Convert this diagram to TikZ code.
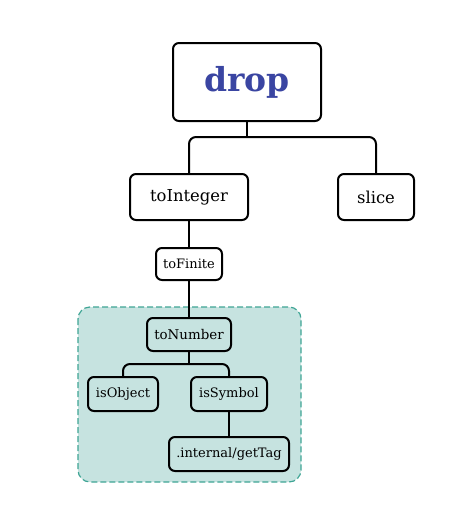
\documentclass[tikz,border=0pt]{standalone}
\usepackage{fontspec}
\setmainfont{DejaVu Serif}
\definecolor{dropblue}{HTML}{3A45A2}
\definecolor{clusterfill}{HTML}{C6E3E0}
\definecolor{clusterline}{HTML}{3FA595}
\tikzset{
  fn/.style={draw=black, line width=2pt, rounded corners=6pt, fill=white, inner sep=0pt, align=center},
  subfn/.style={fn, fill=clusterfill},
  link/.style={line width=2pt, rounded corners=7pt}
}
\begin{document}
\begin{tikzpicture}[x=1pt, y=-1pt]
		%%%%% START %%%%%
		\useasboundingbox[fill=white] (0, 0) rectangle (471, 509);
		
		% module box
		\draw[clusterline, fill=clusterfill, line width=1.2pt, dash pattern=on 6pt off 3pt, rounded corners=12pt] (78, 307) rectangle (301, 482);
		
		\node[fn, minimum width=148pt, minimum height=78pt, font=\fontsize{33}{36}\selectfont\bfseries, text=dropblue] (drop) at (247, 82) {drop};
		
		\node[fn, minimum width=118pt, minimum height=46pt, font=\fontsize{16.4}{19}\selectfont] (toInteger) at (189, 197) {toInteger};
		\node[fn, minimum width=76pt, minimum height=46pt, font=\fontsize{16.4}{19}\selectfont] (slice) at (376, 197) {slice};
		
		\node[fn, minimum width=66pt, minimum height=32pt, font=\fontsize{13}{15}\selectfont] (toFinite) at (189, 264) {toFinite};
		
		\node[subfn, minimum width=84pt, minimum height=33pt, font=\fontsize{13.4}{16}\selectfont] (toNumber) at (189, 334.5) {toNumber};
		\node[subfn, minimum width=70pt, minimum height=34pt, font=\fontsize{13}{16}\selectfont] (isObject) at (123, 394) {isObject};
		\node[subfn, minimum width=76pt, minimum height=34pt, font=\fontsize{13}{16}\selectfont] (isSymbol) at (229, 394) {isSymbol};
		\node[subfn, minimum width=120pt, minimum height=34pt, font=\fontsize{13}{16}\selectfont] (getTag) at (229, 454) {.internal/getTag};
		
		\coordinate (dropfork) at (247, 137);
		\coordinate (numfork) at (189, 364);
		
		\draw[link] (drop.south) -- (dropfork);
		\draw[link] (toInteger.north) |- (dropfork) -| (slice.north);
		\draw[link] (toInteger.south) -- (toFinite.north);
		\draw[link] (toFinite.south) -- (toNumber.north);
		\draw[link] (toNumber.south) -- (numfork);
		\draw[link] (isObject.north) |- (numfork) -| (isSymbol.north);
		\draw[link] (isSymbol.south) -- (getTag.north);
		
		%%%%% END %%%%%
	\end{tikzpicture}
\end{document}
